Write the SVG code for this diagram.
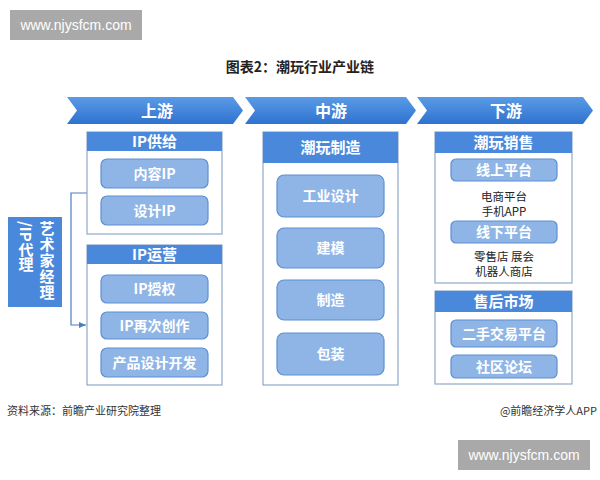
<svg xmlns="http://www.w3.org/2000/svg" width="600" height="480" viewBox="0 0 600 480">
<defs>
<linearGradient id="chev" x1="0" y1="0" x2="0" y2="1">
<stop offset="0" stop-color="#5a9be6"/>
<stop offset="1" stop-color="#2f72cf"/>
</linearGradient>
<marker id="arr" markerWidth="8" markerHeight="8" refX="7" refY="4" orient="auto" markerUnits="userSpaceOnUse">
<path d="M0,1 L7,4 L0,7 Z" fill="#4a7fc4"/>
</marker>
<style>
text{font-family:"Noto Sans CJK SC","Liberation Sans",sans-serif}
.wm{fill:#a9a9a9}
.wmt{fill:#fff;font-size:14px;font-family:"Liberation Sans","Noto Sans CJK SC",sans-serif}
.chev{fill:url(#chev)}
.cht{fill:#fff;font-size:16px;font-weight:bold;text-anchor:middle}
.box{fill:#fff;stroke:#8fa8c8;stroke-width:1.2}
.hdr{fill:#4a88dc}
.hdt{fill:#fff;font-size:15px;font-weight:bold;text-anchor:middle}
.item{fill:#8fb5e6;stroke:#5d8fd2;stroke-width:1.2}
.itt{fill:#fff;font-size:14px;font-weight:bold;text-anchor:middle}
.desc{fill:#222;font-size:11.5px;text-anchor:middle}
.foot{fill:#333;font-size:11px}
.conn{fill:none;stroke:#4a7fc4;stroke-width:1.2}
</style>
</defs>
<rect width="600" height="480" fill="#fff"/>

<g id="watermark-top">
<rect class="wm" x="10" y="10" width="132" height="30"/>
<text class="wmt" x="76" y="30" text-anchor="middle">www.njysfcm.com</text>
</g>

<text x="300" y="72" font-size="14" font-weight="bold" fill="#222" text-anchor="middle">图表2：潮玩行业产业链</text>

<g id="chevrons">
<g id="chev-up">
<path class="chev" d="M67,97 L233,97 L243,110.5 L233,124 L67,124 L77,110.5 Z"/>
<text class="cht" x="157" y="116.5">上游</text>
</g>
<g id="chev-mid">
<path class="chev" d="M245,97 L406,97 L416,110.5 L406,124 L245,124 L255,110.5 Z"/>
<text class="cht" x="331" y="116.5">中游</text>
</g>
<g id="chev-down">
<path class="chev" d="M417,97 L583,97 L593,110.5 L583,124 L417,124 L427,110.5 Z"/>
<text class="cht" x="506" y="116.5">下游</text>
</g>
</g>

<g id="agent">
<rect class="hdr" x="8" y="217" width="54" height="90"/>
<text x="47" y="221" font-size="15" font-weight="bold" fill="#fff" style="writing-mode:vertical-rl" letter-spacing="1">艺术家经理</text>
<text x="26" y="221" font-size="15" font-weight="bold" fill="#fff" style="writing-mode:vertical-rl">/IP代理</text>
</g>

<g id="connectors">
<path class="conn" d="M87,193 L71,193 L71,325 L86,325" marker-end="url(#arr)"/>
</g>

<g id="ip-supply">
<rect class="box" x="87" y="132" width="135" height="102"/>
<rect class="hdr" x="87" y="132" width="135" height="19"/>
<text class="hdt" x="154.5" y="147">IP供给</text>
<rect class="item" x="101" y="159" width="107" height="29" rx="6"/>
<text class="itt" x="154.5" y="178.5">内容IP</text>
<rect class="item" x="101" y="196" width="107" height="29" rx="6"/>
<text class="itt" x="154.5" y="215.5">设计IP</text>
</g>

<g id="ip-ops">
<rect class="box" x="87" y="245" width="135" height="140"/>
<rect class="hdr" x="87" y="245" width="135" height="19"/>
<text class="hdt" x="154.5" y="260">IP运营</text>
<rect class="item" x="101" y="275" width="107" height="28" rx="6"/>
<text class="itt" x="154.5" y="294">IP授权</text>
<rect class="item" x="101" y="312" width="107" height="27" rx="6"/>
<text class="itt" x="154.5" y="330.5">IP再次创作</text>
<rect class="item" x="101" y="348" width="107" height="29" rx="6"/>
<text class="itt" x="154.5" y="367.5">产品设计开发</text>
</g>

<g id="manufacture">
<rect class="box" x="263" y="132" width="135" height="253"/>
<rect class="hdr" x="263" y="132" width="135" height="31"/>
<text class="hdt" x="330.5" y="153" font-size="16">潮玩制造</text>
<rect class="item" x="277" y="175" width="107" height="42" rx="7"/>
<text class="itt" x="330.5" y="201">工业设计</text>
<rect class="item" x="277" y="228" width="107" height="40" rx="7"/>
<text class="itt" x="330.5" y="253">建模</text>
<rect class="item" x="277" y="280" width="107" height="40" rx="7"/>
<text class="itt" x="330.5" y="305">制造</text>
<rect class="item" x="277" y="333" width="107" height="42" rx="7"/>
<text class="itt" x="330.5" y="359">包装</text>
</g>

<g id="sales">
<rect class="box" x="435" y="132" width="137" height="151"/>
<rect class="hdr" x="435" y="132" width="137" height="21"/>
<text class="hdt" x="503.5" y="148">潮玩销售</text>
<rect class="item" x="451" y="159" width="106" height="22" rx="5"/>
<text class="itt" x="504" y="175">线上平台</text>
<text class="desc" x="504" y="201">电商平台</text>
<text class="desc" x="504" y="215.5">手机APP</text>
<rect class="item" x="451" y="221" width="106" height="22" rx="5"/>
<text class="itt" x="504" y="237">线下平台</text>
<text class="desc" x="504" y="261">零售店 展会</text>
<text class="desc" x="504" y="275.5">机器人商店</text>
</g>

<g id="aftermarket">
<rect class="box" x="435" y="291" width="137" height="93"/>
<rect class="hdr" x="435" y="291" width="137" height="21"/>
<text class="hdt" x="503.5" y="307">售后市场</text>
<rect class="item" x="451" y="320" width="106" height="27" rx="5"/>
<text class="itt" x="504" y="338.5">二手交易平台</text>
<rect class="item" x="451" y="355" width="106" height="23" rx="5"/>
<text class="itt" x="504" y="371.5">社区论坛</text>
</g>

<text class="foot" x="7" y="415">资料来源：前瞻产业研究院整理</text>
<text class="foot" x="597" y="415" text-anchor="end">@前瞻经济学人APP</text>

<g id="watermark-bottom">
<rect class="wm" x="458" y="440" width="132" height="30"/>
<text class="wmt" x="524" y="460" text-anchor="middle">www.njysfcm.com</text>
</g>
</svg>
